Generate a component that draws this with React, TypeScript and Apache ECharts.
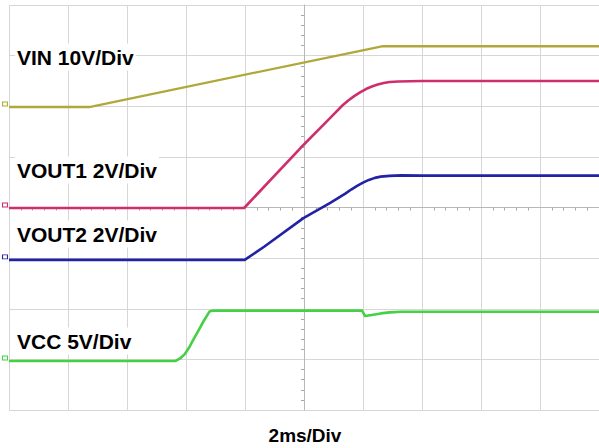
import React, { useEffect, useRef } from "react";
import * as echarts from "echarts";

// time in ms (2 ms/div), values in volts
const vinT = [0, 2.72, 12.64, 20];
const vinV = [0, 0, 12, 12];

const vout1T = [0, 7.97, 9.88, 10.89, 11.3, 11.5, 11.7, 11.9, 12.1, 12.3, 12.5, 12.7, 12.9, 13.2, 14, 20];
const vout1V = [0, 0, 2.37, 3.56, 4.05, 4.25, 4.42, 4.57, 4.7, 4.8, 4.88, 4.94, 4.98, 5.0, 5.02, 5.02];

const vout2T = [0, 7.99, 8.66, 9.98, 10.89, 11.4, 11.6, 11.8, 12.0, 12.2, 12.4, 12.6, 12.9, 13.3, 14, 20];
const vout2V = [0, 0, 0.53, 1.65, 2.25, 2.62, 2.78, 2.92, 3.05, 3.16, 3.24, 3.29, 3.32, 3.34, 3.33, 3.33];

const vccT = [0, 5.65, 5.8, 5.95, 6.1, 6.25, 6.42, 6.6, 6.8, 6.88, 11.97, 12.07, 12.3, 12.6, 12.9, 13.3, 14, 20];
const vccV = [0, 0, 0.25, 0.65, 1.3, 2.1, 3.0, 3.95, 4.9, 4.97, 4.97, 4.44, 4.55, 4.7, 4.8, 4.86, 4.87, 4.87];

const names = ["VIN 10V/Div", "VOUT1 2V/Div", "VOUT2 2V/Div", "VCC 5V/Div"];
const colors = ["#b0a83a", "#cf2e6c", "#2222a4", "#45d045"];
const xLabel = "2ms/Div";

const zip = (t: number[], v: number[]) => t.map((x, i) => [x, v[i]]);

export default function App() {
  const ref = useRef<HTMLDivElement>(null);
  useEffect(() => {
    const chart = echarts.init(ref.current!, null, { renderer: "svg" });
    const gridLine = { show: true, lineStyle: { color: "#d6d6d6", width: 1 } };
    const centerAxis = {
      type: "value" as const,
      interval: 1,
      axisLine: { show: true, onZero: true, onZeroAxisIndex: 0, lineStyle: { color: "#b8b8b8", width: 1 } },
      axisTick: { show: false },
      minorTick: { show: true, splitNumber: 5, length: 3, lineStyle: { color: "#a8a8a8" } },
      axisLabel: { show: false },
      splitLine: gridLine,
      minorSplitLine: { show: false },
    };
    const datas = [zip(vinT, vinV), zip(vout1T, vout1V), zip(vout2T, vout2V), zip(vccT, vccV)];
    const labelY = [57, 170, 234, 341];
    const font = 'bold 21px "Liberation Sans", Arial, sans-serif';
    chart.setOption({
      animation: false,
      backgroundColor: "#ffffff",
      grid: { left: 9, right: -5, top: 5, bottom: 38 },
      xAxis: [
        { ...centerAxis, min: -5, max: 5 },
        { type: "value", min: 0, max: 20, show: false },
      ],
      yAxis: [
        { ...centerAxis, min: -4, max: 4 },
        { type: "value", min: -59.85, max: 20.15, show: false },
        { type: "value", min: -7.98, max: 8.02, show: false },
        { type: "value", min: -5.93, max: 10.07, show: false },
        { type: "value", min: -4.84, max: 35.16, show: false },
      ],
      series: datas.map((d, i) => ({
        type: "line",
        name: names[i],
        xAxisIndex: 1,
        yAxisIndex: i + 1,
        data: d,
        showSymbol: false,
        symbol: "none",
        lineStyle: { color: colors[i], width: i === 0 ? 2.3 : 2.6, join: "round" },
        itemStyle: { color: colors[i] },
        markPoint: {
          silent: true,
          symbol: "rect",
          symbolSize: [5, 4],
          symbolOffset: [-4, -3],
          itemStyle: { color: "rgba(255,255,255,0)", borderColor: colors[i], borderWidth: 1 },
          label: { show: false },
          data: [{ coord: [0, 0] }],
        },
      })),
      graphic: [
        ...names.map((n, i) => ({
          type: "text",
          x: 15,
          y: labelY[i],
          z: 100,
          style: {
            text: n,
            font,
            fill: "#000",
            verticalAlign: "middle",
            backgroundColor: "#ffffff",
            padding: [3, 2],
          },
        })),
        {
          type: "text",
          x: 305,
          y: 435,
          z: 100,
          style: {
            text: xLabel,
            font: 'bold 19px "Liberation Sans", Arial, sans-serif',
            fill: "#000",
            align: "center",
            verticalAlign: "middle",
          },
        },
      ],
    });
    return () => chart.dispose();
  }, []);
  return (
    <div
      ref={ref}
      style={{ position: "fixed", left: 0, top: 0, width: 599, height: 448, background: "#fff" }}
    />
  );
}
